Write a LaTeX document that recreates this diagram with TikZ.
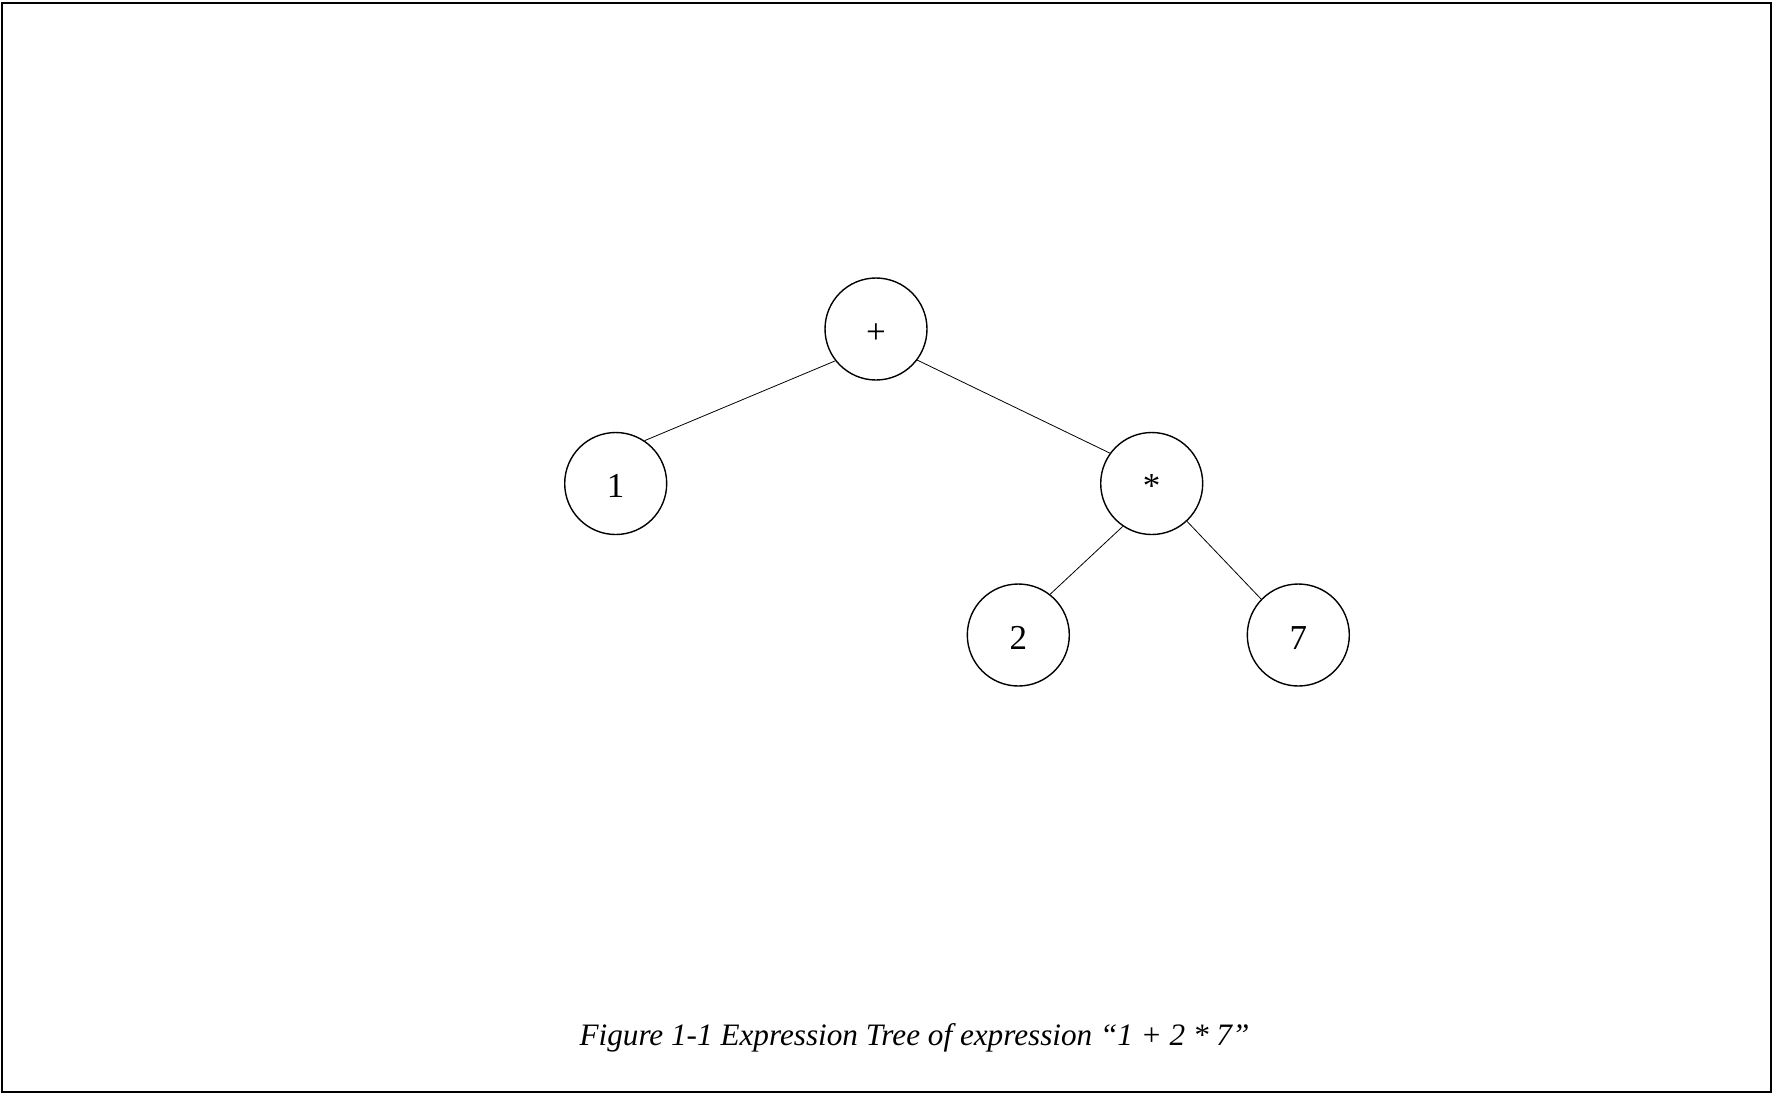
\documentclass[tikz,border=0pt]{standalone}
\usepackage{fontspec}
\setmainfont{Liberation Serif}
\begin{document}
\begin{tikzpicture}[x=1pt,y=-1pt,
  treenode/.style={circle,draw,line width=1.4pt,minimum size=102pt,inner sep=0pt,
    font=\fontsize{35}{40}\selectfont,text height=28pt,text depth=0pt},
  edge/.style={line width=0.8pt}]
\useasboundingbox (0,0) rectangle (1774,1096);
\draw[line width=2pt] (2,3) rectangle (1771,1092);
\node[treenode] (plus) at (876,329) {+};
\node[treenode] (one) at (615.7,483.5) {1};
\node[treenode] (star) at (1151.7,483.5) {*};
\node[treenode] (two) at (1018.3,635) {2};
\node[treenode] (seven) at (1298.3,635) {7};
\draw[edge] (plus.218.3) -- (one.56.9);
\draw[edge] (plus.323.6) -- (star.144.8);
\draw[edge] (star.236.3) -- (two.52.7);
\draw[edge] (star.313.6) -- (seven.136.2);
\node[anchor=base,font=\fontsize{31.2}{40}\selectfont\itshape] (cap) at (914.5,1045) {Figure 1-1 Expression Tree of expression “1 + 2 * 7”};
\end{tikzpicture}
\end{document}
